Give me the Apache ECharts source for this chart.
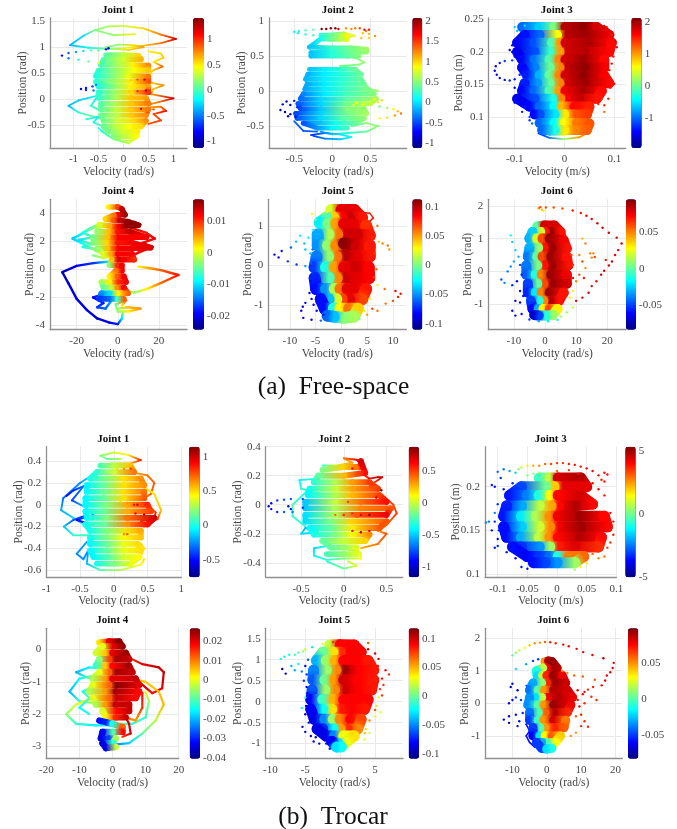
<!DOCTYPE html>
<html>
<head>
<meta charset="utf-8">
<style>html,body{margin:0;background:#fff}#chart{width:677px;height:829px}</style>
<script src="https://cdn.jsdelivr.net/npm/echarts@6/dist/echarts.min.js"></script>
</head>
<body>
<div id="chart"></div>
<script>
// every row is [velocity, position, colour value]
const free1Body = [[[-.35,.85,.05],[0,.85,.3],[.3,.84,.55],[.35,.77,.65],[0,.76,.35],[-.4,.76,.05],[-.45,.66,0],[-.1,.67,.25],[.2,.66,.5],[.5,.65,.75],[.5,.56,.6],[.2,.56,.45],[-.15,.56,.2],[-.5,.55,-.05],[-.55,.45,-.1],[-.2,.45,.15],[.1,.46,.4],[.5,.44,.8],[.5,.34,.9],[.15,.35,.5],[-.2,.35,.2],[-.55,.34,-.05],[-.5,.25,-.1],[-.15,.25,.2],[.15,.24,.5],[.5,.25,.7],[.5,.14,1],[.15,.14,.55],[-.2,.14,.2],[-.5,.14,-.05],[-.5,.03,-.05],[-.15,.04,.25],[.15,.03,.6],[.45,.03,.7],[.5,-.08,.8],[.15,-.08,.6],[-.2,-.08,.25],[-.45,-.08,.05],[-.45,-.19,.05],[-.15,-.19,.3],[.15,-.19,.6],[.5,-.19,.8],[.45,-.3,.75],[.15,-.3,.6],[-.15,-.3,.3],[-.45,-.3,.1],[-.4,-.41,.1],[-.1,-.41,.35],[.2,-.41,.55],[.45,-.41,.75],[.35,-.52,.55],[.1,-.52,.45],[-.15,-.52,.3],[-.4,-.52,.1],[-.3,-.62,.12],[0,-.62,.35],[.28,-.62,.5],[.25,-.71,.45],[0,-.71,.3],[-.2,-.71,.15]]];
const free1Loops = [[[.23,1.25,.5],[-.2,1.23,.2],[-.57,1.33,.15],[-.3,1.4,.25],[0,1.41,.35],[.4,1.36,.55],[.75,1.24,.8],[1.05,1.16,1.2],[.75,1.08,.8],[.4,1.03,.6],[0,.98,.4],[-.3,.97,.1],[-.7,.99,-.1],[-1.07,1.04,-.35],[-.8,1.22,-.25],[-.57,1.33,.15]],[[-.35,1.0,.1],[-.1,1.05,.2],[.2,1.04,.55],[.4,1.0,.7],[.1,.95,.55],[-.2,.97,.2]],[[.5,.92,.5],[.75,.88,.55],[.8,.8,.6],[.6,.72,.5],[.78,.63,.85],[.6,.56,.6],[.5,.46,.5]],[[.5,.33,.55],[.8,.27,.75],[.6,.2,.6],[.55,.1,.7],[1.0,.02,1.2],[.7,-.05,.8],[.5,-.1,.7]],[[.5,-.15,.7],[.75,-.14,.8],[.85,-.22,1.1],[.6,-.28,.9],[.75,-.4,.95],[.5,-.47,.9]],[[-.5,.08,-.1],[-.9,-.02,-.3],[-1.1,-.12,-.35],[-.9,-.25,-.05],[-.6,-.33,.1],[-.4,-.38,.1]],[[-.55,.02,-.2],[-.65,-.12,-.1],[-.5,-.2,0]],[[-.75,-.38,-.05],[-.5,-.33,-.2],[-.6,-.44,-.1],[-.45,-.5,.05]],[[-.5,-.55,-.1],[-.3,-.7,.05],[0,-.8,.25],[.2,-.78,.4],[.25,-.7,.4]],[[-.45,-.6,-.1],[-.2,-.76,.1],[.1,-.84,.3],[.28,-.72,.45]]];
const free1Dots = [[-1.23,.84,-.8],[-1.1,.89,-.6],[-.95,.91,-.4],[-.8,.93,-.25],[-.65,.94,0],[-.5,.94,.1],[-.35,.96,-.8],[-.3,.98,-.9],[-1.1,.79,-.5],[-.9,.76,-.1],[-.7,.73,.1],[-.5,.7,.4],[-.85,.2,-.9],[-.75,.22,-.8],[-.62,.25,-.7],[-.75,.18,-.7],[-.6,.17,-.5],[-.55,.28,-.5],[.15,.37,.6],[.28,.38,.9],[.42,.38,1.25],[.12,.15,.6],[.28,.16,1.05],[.45,.17,1.3],[.35,-.18,1.2],[.55,-.08,.8],[.6,-.19,.9],[.8,-.2,.85],[.48,-.25,.95]];

const free2Body = [[[-.15,.8,.2],[.05,.8,.5],[.2,.8,.9],[.2,.74,.8],[0,.74,.45],[-.15,.75,.15],[-.3,.63,-.1],[0,.62,.25],[.25,.62,.45],[.45,.6,.6],[.45,.56,.55],[.2,.56,.4],[0,.56,.2],[-.28,.55,-.1],[-.28,.5,-.1],[0,.5,.2],[.2,.5,.35],[.35,.5,.5]],[[-.3,.31,-.1],[-.1,.31,.03],[.1,.31,.2],[.3,.31,.4],[.38,.24,.4],[.15,.24,.22],[-.1,.24,.03],[-.32,.24,-.15],[-.35,.17,-.15],[-.1,.17,.03],[.15,.17,.22],[.38,.17,.4],[.42,.1,.42],[.15,.1,.25],[-.1,.1,.03],[-.33,.1,-.18],[-.36,.03,-.2],[-.1,.03,.03],[.2,.03,.28],[.44,.03,.45],[.55,-.04,.5],[.2,-.04,.3],[-.1,-.04,.02],[-.38,-.04,-.3],[-.42,-.11,-.4],[-.15,-.11,-.05],[.2,-.11,.35],[.58,-.11,.6],[.5,-.18,.7],[.2,-.18,.45],[-.15,-.18,-.05],[-.45,-.18,-.45],[-.42,-.25,-.5],[-.15,-.25,-.1],[.2,-.25,.5],[.42,-.25,.55],[.45,-.32,.6],[.2,-.32,.45],[-.15,-.32,-.05],[-.48,-.32,-.5],[-.46,-.39,-.45],[-.15,-.39,-.05],[.15,-.39,.35],[.42,-.39,.55],[.3,-.46,.4],[.05,-.46,.15],[-.3,-.46,-.25],[-.38,-.46,-.45],[-.2,-.53,-.25],[0,-.53,.05],[.2,-.53,.28]]];
const free2Loops = [[[.6,.0,.55],[.5,.03,.5],[.4,.12,.42]],[[-.3,.33,-.1],[0,.33,.1],[.3,.33,.35],[.1,.36,.45],[.35,.38,.5],[.42,.41,.55],[.32,.47,.45],[.2,.5,.4]],[[.25,-.5,.3],[.45,-.46,.5],[.6,-.5,.55],[.45,-.58,.4],[.2,-.6,.2],[0,-.62,.0],[-.15,-.58,-.3]],[[-.5,-.43,-.4],[-.38,-.57,-.45],[-.2,-.58,-.4]],[[-.28,-.63,-.6],[-.1,-.6,-.3],[.1,-.62,0],[.25,-.66,.1],[.1,-.69,-.1],[-.1,-.68,-.3],[-.25,-.64,-.55]],[[-.05,.82,.1],[.15,.84,.6],[.3,.79,.9],[.1,.75,.5]]];
const free2Dots = [[-.14,.89,2.05],[-.08,.89,2.08],[-.02,.9,2.08],[.04,.9,2.08],[.08,.89,1.8],[.18,.9,1.2],[.25,.89,1.25],[.3,.9,1.3],[.36,.9,1.4],[.42,.88,1.7],[.48,.88,1.6],[.44,.86,1.3],[-.5,.85,.08],[-.44,.86,.15],[-.35,.87,.3],[-.25,.88,.35],[-.45,.83,.1],[-.35,.81,.2],[-.25,.8,.3],[.56,.79,1.2],[.48,.82,1.1],[.4,.83,1.05],[.48,.76,1],[.38,.76,1.05],[.9,-.32,1.3],[.86,-.29,1.1],[.8,-.26,.9],[.72,-.24,.6],[.62,-.22,.4],[.82,-.35,1.2],[.72,-.38,1],[.62,-.39,.85],[.65,-.13,1],[.55,-.12,.9],[.6,-.16,.95],[.4,-.19,.9],[.32,-.17,.85],[.28,-.2,.8],[-.6,-.15,-.85],[-.65,-.19,-.9],[-.55,-.2,-.85],[-.68,-.27,-1],[-.62,-.3,-.95],[-.55,-.33,-.9],[-.58,-.36,-.8],[-.48,-.37,-.75],[-.5,-.14,-.7],[-.46,-.23,-.6]];

const free3Body = [[[-.085,.238,-1],[-.05,.238,-.6],[-.02,.238,.1],[.002,.238,1.9],[.04,.238,2.05],[.065,.238,1.8],[.09,.226,1.7],[.04,.226,2],[.002,.226,1.9],[-.015,.226,.6],[-.05,.226,-1],[-.08,.226,-1.35],[-.095,.214,-1.45],[-.06,.214,-1.1],[-.025,.214,-.1],[-.008,.214,1],[.002,.214,1.8],[.05,.214,1.95],[.095,.214,1.6],[.09,.2,1.6],[.04,.2,1.9],[.002,.2,1.8],[-.01,.2,1],[-.03,.2,-.2],[-.06,.2,-1.1],[-.095,.2,-1.5],[-.085,.188,-1.4],[-.06,.188,-.95],[-.03,.188,-.1],[-.01,.188,1.1],[.002,.188,1.8],[.04,.188,2],[.08,.188,1.6],[.08,.176,1.65],[.04,.176,2.05],[.002,.176,1.85],[-.01,.176,1.1],[-.03,.176,0],[-.06,.176,-.9],[-.085,.176,-1.4],[-.075,.164,-1.3],[-.05,.164,-.7],[-.03,.164,0],[-.01,.164,1.1],[.002,.164,1.8],[.04,.164,2.05],[.08,.164,1.65],[.09,.152,1.6],[.04,.152,2],[.002,.152,1.8],[-.01,.152,1.1],[-.03,.152,0],[-.055,.152,-.8],[-.08,.152,-1.3],[-.085,.14,-1.4],[-.06,.14,-1],[-.03,.14,-.1],[-.01,.14,1],[.002,.14,1.7],[.04,.14,1.95],[.075,.14,1.6],[.065,.128,1.55],[.03,.128,1.85],[.003,.128,1.65],[-.008,.128,1.1],[-.025,.128,-.3],[-.06,.128,-1.1],[-.095,.128,-1.5],[-.07,.116,-1.4],[-.05,.116,-1],[-.02,.116,-.4],[-.004,.116,.9],[.02,.116,1.6],[.05,.116,1.5],[.045,.104,1.4],[.02,.104,1.3],[0,.104,.7],[-.02,.104,-.5],[-.05,.104,-1.1],[-.06,.104,-1.4]],[[-.05,.091,-1],[-.02,.091,-.4],[0,.091,.6],[.025,.091,1.15],[.05,.09,1.3],[.045,.08,1.25],[.02,.08,1.1],[0,.08,.7],[-.02,.08,-.3],[-.045,.08,-1]]];
const free3Loops = [[[-.052,.075,-1.3],[-.03,.068,-.9],[0,.066,.2],[.03,.069,1],[.05,.077,1.3],[.03,.076,1.2],[0,.073,.6],[-.03,.073,-.9],[-.05,.076,-1.2]],[[.095,.23,1.7],[.08,.24,1.6],[.07,.232,1.7]],[[-.095,.128,-1.1],[-.075,.134,-.7],[-.09,.122,-1.2]]];
const free3Dots = [[-.14,.171,-1.4],[-.138,.178,-1.4],[-.13,.183,-1.35],[-.12,.186,-1.2],[-.105,.187,-1.2],[-.136,.165,-1.4],[-.13,.16,-1.4],[-.12,.157,-1.35],[-.11,.156,-1.3],[-.1,.158,-1.3],[-.1,.238,-.6],[-.095,.232,-.6],[-.08,.24,-.5],[-.105,.21,-1.5],[-.11,.203,-1.5],[.102,.216,1.7],[.105,.207,1.7],[.098,.193,1.6],[.092,.145,1.6],[.1,.151,1.6],[.085,.238,1.55],[.068,.12,1.5],[.08,.118,1.4],[-.085,.108,-1.3],[-.08,.115,-1.3],[-.07,.095,-1.2],[-.065,.09,-1],[-.105,.2,-1.4],[-.1,.193,-1.4],[-.098,.22,-1.3],[-.09,.165,-1.3],[-.1,.145,-1.4],[-.1,.122,-1.3],[.095,.182,1.6],[.09,.172,1.6],[.088,.128,1.5],[.075,.128,1.5],[.095,.226,1.5],[.08,.108,1.2],[-.07,.1,-1.1]];

const free4Body = [[[-4.5,4.45,.002],[0,4.45,.009],[2,4.3,.014],[3.5,3.9,.016],[0,3.9,.012],[-2,3.85,.007],[-6,3.6,.003],[-2,3.5,.008],[1,3.5,.014],[5,3.4,.016],[10,3.15,.016],[4,3.1,.016],[0,3.05,.012],[-4,3.1,.005],[-9,3.2,0],[-10,2.7,-.003],[-4,2.7,.004],[0,2.7,.011],[6,2.7,.014],[14,2.3,.012],[6,2.3,.012],[0,2.3,.012],[-5,2.3,.004],[-12,2.3,-.004],[-12,1.9,-.004],[-5,1.9,.003],[0,1.9,.011],[7,1.9,.012],[16,1.55,.013],[7,1.5,.012],[0,1.5,.012],[-5,1.5,.004],[-10,1.5,-.003],[-7,1.1,0],[-3,1.1,.005],[0,1.1,.012],[7,1.1,.012],[8,.7,.01],[3,.7,.012],[0,.7,.013],[-3,.7,.004],[-4,.3,-.003],[0,.3,.01],[2,.3,.012],[2,-.1,.012],[-1,-.1,.007],[-4,-.5,.002],[0,-.5,.008],[3,-.5,.012],[4,-.9,.012],[0,-.9,.01],[-4,-.9,.002],[-8,-.9,-.002],[-7,-1.3,-.005],[-3,-1.3,-.001],[0,-1.3,.006],[3,-1.3,.012],[5,-1.7,.008],[0,-1.7,.002],[-4,-1.7,-.01],[-8,-1.7,-.013],[-9,-2.1,-.017],[-4,-2.1,-.015],[0,-2.1,-.006],[3,-2.1,.008]]];
const free4Loops = [[[-8,3.3,-.004],[-14,2.9,-.006],[-18,2.5,-.009],[-22,2.2,-.011],[-18,1.9,-.009],[-14,1.6,-.006],[-9,1.2,-.002]],[[-10,3.1,-.002],[-17,2.6,-.008],[-12,2.3,-.005],[-19,2.1,-.01],[-13,1.8,-.005],[-17,1.6,-.008],[-9,1.4,-.002]],[[-12,1,-.004],[-7,.8,-.001],[-4,.9,.002]],[[-5,.55,-.01],[-12,.45,-.017],[-20,.25,-.02],[-27,-.2,-.022],[-24,-1,-.021],[-20,-2.1,-.02],[-15,-2.9,-.02],[-10,-3.5,-.021],[-4,-3.8,-.02],[0,-3.9,-.018],[2,-3.5,-.01],[2.5,-3,-.003]],[[10,.2,.002],[15,.1,.005],[21,-.05,.008],[29.5,-.4,.011],[22,-.9,.008],[14,-1.4,.002],[8,-1.65,-.003],[4,-1.55,.002]],[[8,3.4,.016],[11,3.2,.016],[6,3,.013],[14,2.6,.011],[17,2.3,.012],[18,2.2,.012],[12,1.9,.012],[17,1.6,.012],[10,1.2,.012],[6,.9,.012]],[[-10,-1.9,-.018],[-12,-2,-.019],[-7,-2.4,-.018],[-10,-2.7,-.017],[-6,-2.8,-.015],[-3,-2.2,-.012]],[[0,-2.8,-.002],[5,-2.7,.004],[11,-2.8,.006],[5,-3,.002],[0,-3,-.003],[-1,-2.5,-.004],[4,-2.2,.008],[2,-2.6,.002]]];
const free4Dots = [];

const free5Body = [[[-2,1.4,.02],[0,1.4,.09],[2.5,1.4,.09],[4,1.2,.08],[1.5,1.2,.095],[0,1.2,.085],[-1.5,1.2,.04],[-3,1.2,-.01],[-4.2,1.08,-.03],[-2.5,1.05,0],[-1,1.05,.05],[.5,1.05,.09],[3,1,.09],[4.8,1,.075],[5.5,.75,.08],[3,.78,.095],[.5,.78,.095],[-.8,.78,.06],[-2.5,.78,.01],[-4.6,.78,-.045],[-4.6,.5,-.05],[-2.6,.5,.005],[-1,.5,.055],[.5,.55,.11],[3,.5,.095],[5.5,.5,.08],[5.5,.22,.08],[3,.22,.09],[.5,.25,.1],[-1,.22,.06],[-2.6,.22,.005],[-4.8,.22,-.055],[-5.2,-.05,-.07],[-3,-.05,-.02],[-1.2,-.05,.05],[.5,-.05,.09],[3,-.05,.095],[5.3,-.05,.085],[5.4,-.32,.085],[3,-.32,.09],[.5,-.32,.095],[-.9,-.32,.055],[-2.5,-.32,-.01],[-5.2,-.32,-.075],[-4.9,-.6,-.08],[-3,-.6,-.05],[-1.3,-.6,.01],[-.2,-.6,.06],[1.2,-.6,.09],[3,-.6,.09],[4.8,-.6,.08],[4,-.86,.07],[1.5,-.86,.09],[0,-.86,.07],[-1,-.86,.02],[-2.5,-.86,-.04],[-4,-.86,-.08],[-3.2,-1.1,-.08],[-1.5,-1.1,-.02],[-.2,-1.1,.03],[1.5,-1.1,.06],[3.2,-1.1,.04],[2.4,-1.3,.01],[.5,-1.33,.005],[-1.5,-1.3,-.04],[-2.7,-1.28,-.06]]];
const free5Loops = [[[3.5,1.35,.1],[5.5,1.32,.08],[6.2,1.2,.08],[5,1.05,.09],[6,.95,.075]]];
const free5Dots = [[-13,.27,-.085],[-12.2,.2,-.085],[-11.6,.36,-.08],[-10.4,.1,-.07],[-9.8,.45,-.06],[-8.7,.02,-.07],[-8,.75,-.03],[-8.8,.6,-.04],[-7.2,.55,-.04],[-7,.4,-.04],[-7,-.02,-.05],[-6.4,.7,-.03],[-6,.3,-.04],[-6,.05,-.06],[-5.7,1.3,.03],[-5.5,.9,-.02],[-5.5,-.2,-.07],[-6,-.4,-.08],[-6.2,-.7,-.085],[-5.8,-.85,-.085],[-7,-.95,-.09],[-7.5,-1.05,-.09],[-7.8,-1.15,-.085],[-7.4,-1.33,-.085],[-5.8,-1.38,-.09],[-4,-1.4,-.06],[-3.5,-1.25,-.08],[7,1,.06],[7.3,.6,.04],[8,.55,.055],[9,.5,.06],[9.3,.4,.05],[6.5,.3,.07],[6.8,-.1,.06],[7,-.5,.02],[8.4,-.6,.06],[8.6,-.97,.06],[10,-.9,.07],[10.5,-.65,.09],[11,-.8,.08],[11.5,-.72,.08],[7,-1.15,.06],[6,-1.1,.07],[5,-1.25,.05],[-5,1.15,0],[-5.2,.6,-.05],[-5.6,.4,-.06],[-5.8,-.5,-.08],[-5.4,-1,-.085],[-4.8,-1.15,-.08],[6,.7,.075],[6.2,.15,.08],[6.3,-.3,.07],[5.5,-.85,.03],[4.5,-1.15,.02],[3.5,-1.35,.0],[-2.8,1.35,.03],[-3.5,1.3,.01]];

const free6Body = [[[-2.5,1.38,.0],[0,1.4,.08],[3,1.4,.08],[5,1.2,.07],[1.5,1.2,.09],[0,1.2,.07],[-1.5,1.2,.02],[-4,1.2,-.025],[-5,1,-.03],[-2.5,1,.02],[-.8,1,.06],[1.5,1,.09],[6,.95,.075],[7,.7,.07],[2,.72,.09],[-.5,.72,.07],[-2.2,.72,.01],[-5,.72,-.03],[-5.5,.45,-.04],[-2.5,.45,.0],[-.8,.45,.06],[2,.45,.09],[7,.45,.07],[7.5,.18,.07],[2,.18,.09],[-.5,.18,.07],[-2.5,.18,.005],[-6,.18,-.04],[-6,-.1,-.045],[-3,-.1,-.01],[-1,-.1,.05],[2,-.1,.09],[7,-.1,.075],[7,-.38,.08],[2,-.38,.09],[-.5,-.38,.06],[-2.5,-.38,0],[-5.5,-.38,-.05],[-5.5,-.65,-.055],[-3,-.65,-.02],[-1,-.65,.05],[1.5,-.65,.09],[6,-.65,.07],[4.5,-.9,.07],[1.5,-.9,.085],[-.5,-.9,.05],[-2,-.9,-.01],[-4.5,-.9,-.05],[-4,-1.15,-.06],[-2,-1.15,-.03],[-.5,-1.15,.03],[1.5,-1.15,.06],[4,-1.15,.03],[2.5,-1.33,.01],[0,-1.35,-.01],[-2,-1.35,-.05],[-3.5,-1.33,-.07]]];
const free6Loops = [[[-3.5,1.35,-.02],[-5,1.2,-.03],[-5.2,.9,-.04],[-4,1,-.03]],[[4,1.35,.07],[6,1.25,.07],[7,1,.06],[6,.85,.07]]];
const free6Dots = [[-2,1.93,.05],[-1.5,1.96,.06],[-1,1.88,.04],[-.5,1.85,.03],[.3,1.95,.06],[2.8,1.95,.06],[5.6,1.92,.06],[8.9,1.86,.07],[11.5,1.78,.07],[13.3,1.7,.075],[15,1.6,.075],[16.8,1.47,.08],[18.5,1.33,.08],[20.5,1.18,.08],[23,1.03,.08],[24.6,.85,.08],[23.5,.65,.08],[22.5,.5,.075],[21.5,.3,.08],[19.5,.35,.07],[20.5,.18,.08],[19,.02,.08],[18,-.1,.08],[16.5,-.3,.07],[15,-.45,.08],[14,-.65,.08],[12,-.8,.08],[10,-.9,.08],[14.5,.55,.05],[15.5,.55,.05],[15,.42,.05],[16,.44,.06],[13,.85,.05],[12,1,.04],[11,.5,.05],[12,.3,.06],[13,.1,.05],[11,-.1,.06],[12.5,-.2,.07],[10,-.3,.05],[9,-.6,.03],[9,-1.1,.02],[7,-1.25,.01],[5,-1.38,.01],[-11,1.1,-.015],[-10.5,.9,-.025],[-9.5,.65,-.025],[-8.5,.45,-.03],[-10,.3,-.03],[-11,.15,-.035],[-12,.0,-.04],[-14,-.25,-.045],[-13,-.35,-.04],[-10.5,-.42,-.055],[-9,-.3,-.06],[-8,-.6,-.06],[-9.5,-.9,-.065],[-10.5,-1.2,-.06],[-9.5,-1.35,-.06],[-7.5,-1.3,-.06],[-5,-1.47,-.05],[-2,-1.52,-.03],[1,-1.52,-.02],[4,-1.48,-.02],[-8,.2,-.05],[-7.5,-.1,-.055],[-8,-.95,-.065],[-7,-.75,-.06],[8.5,.5,.06],[9,.2,.065],[9,-.2,.07],[8,-.8,.03]];

const troc1Body = [[[-.2,.36,.1],[0,.36,.3],[.25,.36,.55],[.3,.3,.7],[0,.3,.35],[-.25,.3,.05],[-.35,.24,0],[-.1,.24,.2],[.15,.24,.5],[.4,.24,.65],[.45,.18,.65],[.15,.18,.5],[-.15,.18,.15],[-.4,.18,-.05],[-.4,.12,-.05],[-.15,.12,.15],[.15,.12,.5],[.45,.12,.7],[.45,.06,.75],[.15,.06,.5],[-.15,.06,.15],[-.42,.06,-.05],[-.42,0,-.05],[-.1,0,.2],[.2,0,.6],[.5,0,.85],[.55,-.06,.8],[.2,-.06,.6],[-.15,-.06,.15],[-.42,-.06,-.05],[-.4,-.12,-.05],[-.1,-.12,.2],[.2,-.12,.7],[.6,-.12,1],[.5,-.18,.9],[.2,-.18,.65],[-.15,-.18,.15],[-.42,-.18,0],[-.35,-.24,0],[-.1,-.24,.2],[.2,-.24,.5],[.4,-.24,.6],[.4,-.3,.55],[.15,-.3,.45],[-.1,-.3,.2],[-.35,-.3,0],[-.35,-.36,-.05],[-.1,-.36,.15],[.15,-.36,.4],[.35,-.36,.5],[.4,-.42,.5],[.15,-.42,.4],[-.1,-.42,.15],[-.35,-.42,-.05],[-.3,-.48,-.05],[-.1,-.48,.1],[.15,-.48,.35],[.38,-.48,.45],[.25,-.54,.4],[0,-.54,.2],[-.25,-.54,0]]];
const troc1Loops = [[[.1,.42,.3],[-.1,.42,.15],[-.2,.45,.2],[0,.48,.35],[.2,.46,.45],[.4,.41,.85],[.25,.38,.6],[-.05,.38,.3]],[[-.3,.28,-.05],[-.5,.2,-.25],[-.75,.06,-.3],[-.78,-.05,-.2],[-.6,-.12,-.1],[-.4,-.2,.1]],[[-.7,.08,-.5],[-.6,.13,-.45],[-.45,.17,-.3],[-.62,.04,-.4],[-.4,-.03,-.1]],[[-.42,-.1,-.45],[-.6,-.14,-.35],[-.74,-.2,-.15],[-.6,-.28,.05],[-.35,-.28,.1]],[[-.4,-.17,-.5],[-.55,-.14,-.5],[-.3,-.09,-.2]],[[-.4,-.34,-.2],[-.55,-.45,-.25],[-.45,-.5,-.25],[-.38,-.42,-.25],[-.4,-.54,-.15],[-.2,-.6,.1],[.1,-.6,.3],[.4,-.55,.45],[.45,-.5,.5]],[[.25,.3,.6],[.5,.27,.7],[.6,.2,.75],[.55,.1,.75],[.45,.06,.7]],[[.45,.16,.45],[.6,.1,.5],[.7,-.05,.55],[.65,-.13,.8],[.45,-.2,.85]],[[.55,-.03,.7],[.62,-.07,.85],[.6,-.13,1],[.4,-.15,.95]],[[.4,-.35,.5],[.45,-.4,.5],[.4,-.47,.5]]];
const troc1Dots = [[.15,.33,.65],[.25,.33,.8],[.05,.33,.5],[.1,.03,.5],[.2,.01,.65],[.3,.0,.9],[.35,0,1],[.32,-.08,.95],[.45,-.09,1.05],[.15,-.27,.65],[.2,-.27,.75]];

const troc2Body = [[[-.25,.24,-.15],[0,.26,.2],[.2,.26,.45],[.2,.3,.7],[.25,.22,.6],[0,.2,.25],[-.3,.2,-.2],[-.35,.155,-.3],[-.1,.155,-.05],[.1,.155,.3],[.3,.155,.5],[.4,.11,.5],[.1,.11,.3],[-.1,.11,0],[-.4,.11,-.35],[-.42,.065,-.4],[-.1,.065,-.05],[.1,.065,.25],[.42,.065,.5],[.5,.02,.6],[.2,.02,.4],[-.1,.02,0],[-.45,.02,-.5],[-.45,-.025,-.5],[-.1,-.025,-.05],[.2,-.025,.35],[.55,-.025,.45],[.5,-.07,.65],[.15,-.07,.45],[-.1,-.07,-.05],[-.45,-.07,-.45],[-.45,-.115,-.45],[-.15,-.115,-.15],[.1,-.115,.2],[.5,-.115,.45],[.42,-.16,.45],[.1,-.16,.15],[-.15,-.16,-.2],[-.4,-.16,-.4],[-.35,-.205,-.35],[-.1,-.205,-.15],[.1,-.205,.1],[.3,-.205,.35],[.25,-.25,.2],[0,-.25,0],[-.25,-.25,-.2],[-.15,-.295,-.2],[0,-.295,-.1],[.15,-.295,.05],[.15,-.34,.05],[0,-.34,-.1],[-.2,-.34,-.25]]];
const troc2Loops = [[[-.25,.27,-.3],[-.1,.27,.05],[.1,.29,.3],[.0,.32,.35],[.15,.31,.65],[.2,.28,.7]],[[.2,.22,.55],[.3,.18,.6],[.4,.19,.75],[.45,.19,.7],[.35,.15,.5]],[[-.3,.18,-.3],[-.52,.17,-.4],[-.5,.11,-.3],[-.3,.08,-.3]],[[-.42,.1,-.35],[-.6,.0,-.25],[-.6,-.08,-.3],[-.45,-.15,-.3]],[[-.3,-.18,-.3],[-.45,-.16,-.55],[-.5,-.2,-.45],[-.3,-.19,-.5]],[[.45,.07,.45],[.58,.0,.5],[.62,-.06,.5],[.5,-.14,.4],[.4,-.18,.3]],[[.4,-.18,.3],[.5,-.2,.45],[.4,-.27,.4],[.2,-.3,.25]],[[-.15,-.28,-.35],[-.35,-.3,-.45],[-.35,-.35,-.4],[-.2,-.38,-.3],[0,-.37,-.15],[.2,-.37,.1],[.2,-.33,.05],[.05,-.31,-.1]],[[-.2,-.39,-.3],[0,-.44,-.2],[.15,-.42,.05],[.05,-.39,0]]];
const troc2Dots = [[-.88,-.01,-.95],[-.85,.01,-.9],[-.78,.03,-.8],[-.7,.035,-.75],[-.62,.04,-.7],[-.85,-.03,-.9],[-.78,-.05,-.8],[-.7,-.05,-.7],[-.6,-.05,-.65],[-.65,-.01,-.9],[-.62,-.03,-.9],[-.48,.04,-.75],[-.48,-.02,-.8],[.1,-.06,.55],[.2,-.07,.7],[.3,-.07,.85],[.1,-.18,.6],[.2,-.19,.75],[.3,-.18,.7],[.1,.25,.6],[.05,.02,.5],[-.1,-.07,.4],[0,-.07,.55],[.38,.05,.7],[.44,.1,.85]];

const troc3Body = [[[-.03,.21,-.5],[-.012,.21,.8],[.002,.21,4.5],[.04,.21,4.8],[.05,.2,4.3],[.01,.2,4.3],[-.005,.2,2],[-.02,.2,0],[-.06,.2,-3],[-.08,.19,-3.5],[-.05,.19,-2.4],[-.03,.19,-.8],[-.01,.19,1.5],[.002,.19,4],[.04,.19,4.5],[.06,.18,4],[.03,.178,4.8],[.002,.178,4],[-.01,.178,2.4],[-.03,.178,.8],[-.06,.178,-2],[-.085,.178,-3.4],[-.09,.166,-3.5],[-.06,.166,-1.3],[-.035,.166,.6],[-.012,.166,2.6],[.002,.166,4.2],[.04,.166,5],[.08,.166,4],[.085,.154,4],[.04,.154,5],[.002,.154,4.2],[-.012,.154,2.7],[-.03,.154,1],[-.06,.154,-1.6],[-.09,.154,-3.6],[-.085,.142,-3.6],[-.06,.142,-2],[-.03,.142,.8],[-.012,.142,2.6],[.002,.142,4],[.04,.142,4.8],[.075,.142,4],[.07,.131,3.6],[.03,.131,4.4],[.002,.131,3.8],[-.012,.131,.5],[-.03,.131,-2.2],[-.06,.131,-3.2],[-.075,.131,-3.6],[-.05,.12,-3.7],[-.03,.12,-3.2],[-.012,.12,-2.6],[.002,.12,-.8],[.02,.12,2.8],[.045,.12,3],[.03,.113,.5],[0,.113,-2.2],[-.02,.113,-3],[-.04,.113,-3.6]]];
const troc3Loops = [];
const troc3Dots = [[-.12,.159,-2.4],[-.115,.16,-2.6],[-.105,.13,-3.5],[-.1,.132,-3.2],[-.105,.2,-3.5],[-.11,.202,-3.5],[-.1,.217,-2.8],[-.095,.21,-3.2],[-.09,.22,-2.4],[-.08,.218,-2],[-.07,.216,-1.5],[-.065,.22,.2],[-.06,.222,1],[-.05,.224,1.6],[-.04,.224,2.2],[-.03,.224,2.6],[-.02,.226,3],[-.01,.226,3.3],[0,.227,3.5],[.01,.227,3.6],[.02,.226,3.8],[.03,.225,4],[.04,.223,4],[.05,.221,4],[.06,.218,4],[.07,.213,4],[.08,.216,4],[.085,.214,4],[.08,.206,3.8],[.075,.208,3.8],[-.05,.213,.2],[-.04,.215,.2],[-.03,.216,.5],[.0,.218,3],[.02,.219,3.6],[.035,.215,4],[.095,.16,3.8],[.09,.17,4],[.095,.145,3.8],[.085,.13,3.4],[.09,.136,3.5],[-.11,.15,-3.5],[-.105,.17,-2.4],[-.1,.18,-3.2],[-.1,.14,-3.6],[-.085,.125,-3.5],[-.07,.118,-3.7],[.05,.112,1.6],[.04,.108,1.5],[.07,.118,2.6],[.06,.123,3],[-.09,.197,-3.5],[-.075,.204,-3.4],[-.105,.16,-3.4],[-.098,.15,-3.5],[-.06,.108,-3.6],[-.05,.106,-3.6],[.08,.19,3.9],[.07,.197,4],[.06,.204,4],[.09,.15,3.8],[.08,.12,2.8],[.03,.105,.5]];

const troc4Body = [[[-4,.22,.003],[-1,.25,.02],[2,.25,.026],[3,.1,.025],[0,.1,.02],[-3,.1,.0],[-5,-.1,-.002],[-2,-.1,.005],[0,-.1,.02],[4,-.1,.025],[5,-.3,.022],[1,-.3,.024],[-1,-.3,.014],[-4,-.3,-.006],[-5,-.5,-.012],[-2,-.5,.005],[0,-.5,.018],[5,-.5,.024],[6,-.7,.022],[1,-.7,.024],[-1,-.7,.012],[-4,-.7,0],[-6,-.9,-.004],[-2,-.9,.008],[0,-.9,.02],[7,-.9,.022],[8,-1.1,.02],[1,-1.1,.026],[-1,-1.1,.012],[-6,-1.1,.0],[-7,-1.3,-.004],[-2,-1.3,.008],[1,-1.3,.024],[8,-1.3,.018],[7,-1.5,.018],[1,-1.5,.022],[-1,-1.5,.012],[-6,-1.5,.0],[-5,-1.7,-.004],[-2,-1.7,.008],[1,-1.7,.022],[5,-1.7,.022],[5,-1.9,.022],[1,-1.9,.018],[-3,-1.9,-.001],[-2,-2.1,.002],[1,-2.1,.016],[4,-2.1,.022]],[[-4,-2.2,-.031],[-2,-2.25,-.03],[0,-2.3,-.014],[3,-2.4,.012],[3,-2.55,.018],[0,-2.55,-.01],[-3,-2.55,-.032],[-3.5,-2.75,-.034],[-1,-2.75,-.028],[1,-2.75,-.004],[0,-2.9,-.012],[-3,-2.9,-.034],[-2,-3.05,-.033],[1,-3.02,-.002]]];
const troc4Loops = [[[-3,.2,.002],[-4,.05,.002],[-4.5,.0,.0],[-3,-.3,-.016]],[[5,-.25,.015],[9,-.45,.02],[14,-.55,.022],[15.5,-.7,.022],[15,-1.2,.02],[12,-1.35,.018],[8,-1,.024]],[[-3,-.6,-.01],[-7,-.55,-.015],[-11,-.7,-.02],[-8,-.85,-.012],[-5,-.95,-.004]],[[-3,-.75,-.002],[-10,-.9,-.015],[-13,-1.3,-.02],[-10,-1.6,-.012],[-6,-1.65,-.005]],[[4,-.85,.006],[10,-1,.005],[14,-1.3,.006],[15.5,-1.7,.006],[13,-2.2,-.003],[9,-2.6,-.009],[5,-2.9,-.018],[0,-2.95,-.025]],[[-1,-1.55,.004],[-6,-1.5,.004],[-11,-1.7,-.001],[-14,-2,-.006],[-11,-2.3,-.012],[-5,-2.35,-.016],[0,-2.35,-.012]],[[2,-2.3,-.008],[6,-2.3,-.012],[10,-2.1,-.012],[11,-1.6,-.005],[10,-1.3,.002]],[[0,-1.3,.012],[-5,-1.1,-.006],[-9,-1.3,-.014],[-7,-1.5,-.01],[-10,-1.8,-.015],[-7,-2,-.014]],[[3,-1.9,.02],[5,-2.3,.021],[5.5,-2.6,.02],[3,-2.7,.015]],[[6,-1.1,.022],[9,-1.35,.018],[9,-1.8,.015],[7,-2.2,.008],[4,-2.1,.012]],[[-3,.2,-.002],[-1,-.1,-.01],[-2,-.35,-.012]],[[1,-3.02,0],[0,-3.08,-.02],[-2,-3,-.03]]];
const troc4Dots = [];

const troc5Body = [[[-1.5,1.35,.02],[0,1.36,.09],[2,1.35,.09],[3,1.18,.09],[1,1.18,.09],[0,1.18,.08],[-1,1.18,.04],[-2.5,1.18,.0],[-3.4,.98,-.04],[-2,.98,.01],[-.7,.98,.05],[.5,.98,.09],[2.5,.98,.09],[4,.98,.085],[4.8,.75,.085],[2.5,.75,.09],[.5,.75,.11],[-.6,.75,.06],[-2,.75,.01],[-3.8,.75,-.05],[-3.9,.52,-.06],[-2.2,.52,0],[-.8,.52,.055],[.5,.52,.1],[2.5,.52,.09],[4.8,.52,.085],[4.5,.28,.085],[2.5,.28,.09],[.5,.28,.1],[-.8,.28,.06],[-2.2,.28,.01],[-4,.28,-.06],[-4.2,.05,-.08],[-2.5,.05,-.01],[-.9,.05,.05],[.5,.05,.09],[2.5,.05,.09],[4,.05,.09],[3.5,-.18,.085],[1.5,-.18,.09],[0,-.18,.085],[-1.2,-.18,.04],[-2.5,-.18,-.02],[-4.2,-.18,-.08],[-3.7,-.42,-.085],[-2.2,-.42,-.05],[-1,-.42,.01],[0,-.42,.06],[1.5,-.42,.09],[3,-.42,.075],[2.5,-.65,.06],[1,-.65,.08],[0,-.65,.055],[-1,-.65,-.02],[-2.5,-.65,-.07],[-3.3,-.65,-.085],[-2,-.82,-.085],[-.8,-.82,-.05],[.5,-.82,.03],[2,-.82,.04],[.8,-.98,.03],[-.3,-1,-.03],[-1.2,-.95,-.08],[-.5,-1.08,-.03],[.2,-1.08,-.02]]];
const troc5Loops = [];
const troc5Dots = [[-8.3,.78,-.09],[-7.8,.67,-.09],[-8.5,1.02,-.02],[-8,1.07,-.02],[-7.3,1.12,-.02],[-6.5,1.12,-.01],[-6,1.17,-.005],[-5.3,1.2,.01],[-7,.85,-.04],[-6.5,.75,-.04],[-6,.9,-.02],[-5.5,.72,-.05],[-5.2,.5,-.07],[-4.8,.35,-.08],[-4.8,.65,-.07],[-5,.1,-.01],[-5.5,-.15,-.02],[-5,-.3,-.09],[-5.4,-.6,-.09],[-5,-.72,-.09],[-4.2,-.82,-.09],[-3.5,-.85,-.09],[-2,-1,-.09],[-1.5,-1.12,-.08],[3.5,-.9,.03],[4.2,-.75,.02],[3.7,-.65,.04],[5.5,1.02,.1],[5,1.15,.1],[4,1.25,.1],[2.5,1.42,.09],[4,1.4,.07],[6.5,.75,.09],[7,.65,.08],[6,.55,.09],[6.2,.4,.08],[6,.15,.08],[5.5,.1,.03],[5.2,-.1,.04],[5.8,-.25,.03],[5,-.35,.03],[-1,1.42,.08],[-2.5,1.38,.03],[-4,1.3,-.03],[-5,1.25,.02],[-4.6,1,-.06],[-5,.85,-.08],[-4.7,.2,-.08],[-4.9,-.1,-.085],[-4.5,-.5,-.09],[-3.8,-.95,-.085],[-3,-1,-.09],[5.4,.85,.09],[5.7,.3,.08],[5,-.2,.07],[4.2,-.45,.06],[3.5,-.75,.05]];

const troc6Body = [[[-.5,1.28,.05],[.5,1.3,.09],[1.5,1.28,.095],[3,1.08,.09],[1,1.08,.095],[0,1.08,.08],[-1.2,1.08,.02],[-3,1,-.01],[-2.8,.85,-.02],[-1.2,.85,.02],[0,.85,.07],[2,.85,.095],[4.5,.85,.08],[5.5,.62,.085],[2,.62,.095],[0,.62,.07],[-1.5,.62,.01],[-4,.62,-.03],[-5,.4,-.04],[-2.5,.4,.0],[-.6,.4,.05],[2,.4,.09],[6,.4,.085],[7.5,.18,.08],[3,.18,.09],[0,.18,.08],[-1.5,.18,.02],[-3.5,.18,-.02],[-5,.18,-.035],[-5.5,-.05,-.035],[-2.5,-.05,.0],[-.7,-.05,.05],[2,-.05,.095],[7,-.05,.08],[6,-.28,.07],[2,-.28,.09],[-.5,-.28,.06],[-2.5,-.28,.0],[-5,-.28,-.04],[-5,-.52,-.05],[-2.5,-.52,-.005],[-.8,-.52,.05],[2,-.52,.085],[5.5,-.52,.055],[5,-.75,.06],[2,-.75,.07],[-.5,-.75,.05],[-2,-.75,.0],[-4,-.75,-.05],[-4,-1,-.06],[-2,-1,-.02],[-.5,-1,.03],[1.5,-1,.06],[4,-1,.04],[2.5,-1.2,.03],[0,-1.22,.0],[-1.5,-1.2,-.03],[-3,-1.2,-.05],[-1.5,-1.38,-.05],[0,-1.4,-.02],[1.5,-1.38,-.01]]];
const troc6Loops = [[[-6,.55,-.055],[-5.2,.35,-.05],[-5.3,.55,-.05]],[[-5,-.4,-.055],[-6,-.65,-.06],[-5,-.85,-.06],[-6,-1,-.06],[-5,-1.2,-.065],[-3.5,-1.35,-.06]],[[-1.5,1.35,-.015],[0,1.4,-.005],[1.5,1.36,0]]];
const troc6Dots = [[-10,1.47,.0],[-9,1.55,.01],[-8,1.63,.02],[-6.5,1.7,.03],[-5,1.78,.04],[-3.5,1.84,.05],[-2,1.86,.05],[-.5,1.88,.06],[1,1.87,.07],[2.6,1.84,.07],[4.8,1.8,.08],[6.4,1.75,.08],[8.7,1.67,.08],[10.6,1.57,.08],[13.3,1.48,.08],[16.5,1.38,.09],[19.5,1.24,.08],[19.2,1.08,.08],[18.5,.95,.08],[17.5,.85,.08],[17,.7,.08],[16,.55,.08],[14,.72,.06],[13.5,.5,.07],[12,.42,.07],[11,.35,.08],[10.5,.28,.08],[13,.2,.07],[14.5,.1,.07],[11,0,.07],[9.5,-.1,.08],[10,-.35,.07],[11,-.55,.07],[10,-.7,.07],[12,-.72,.07],[8.5,-.9,.05],[7,-1,.05],[6,.93,.05],[8,.85,.06],[10.5,.82,.06],[4.5,1,.05],[-2.5,1.35,-.05],[-4,1.3,-.05],[-6,1.2,-.03],[-9,1.05,-.02],[-10,.6,-.06],[-10.5,.5,-.07],[-8.5,.4,-.07],[-10,.1,-.06],[-9,.18,-.05],[-11,.0,-.06],[-12.5,-.5,-.07],[-11,-.4,-.06],[-11,-.6,-.07],[-9,-.35,-.06],[-8.5,-.7,-.07],[-8,-.55,-.06],[-7.5,.1,-.05],[-7,-.3,-.055],[9,.4,.08],[9,.1,.075],[8.5,-.4,.06]];

// tick labels
const free1XTicks = [-1,-.5,0,.5,1], free1YTicks = [-.5,0,.5,1,1.5], free1BarTicks = [-1,-.5,0,.5,1];
const free2XTicks = [-.5,0,.5], free2YTicks = [-.5,0,.5,1], free2BarTicks = [-1,-.5,0,.5,1,1.5,2];
const free3XTicks = [-.1,0,.1], free3YTicks = [.1,.15,.2,.25], free3BarTicks = [-1,0,1,2];
const free4XTicks = [-20,0,20], free4YTicks = [-4,-2,0,2,4], free4BarTicks = [-.02,-.01,0,.01];
const free5XTicks = [-10,-5,0,5,10], free5YTicks = [-1,0,1], free5BarTicks = [-.1,-.05,0,.05,.1];
const free6XTicks = [-10,0,10,20], free6YTicks = [-1,0,1,2], free6BarTicks = [-.05,0,.05];
const troc1XTicks = [-1,-.5,0,.5,1], troc1YTicks = [-.6,-.4,-.2,0,.2,.4], troc1BarTicks = [-.5,0,.5,1];
const troc2XTicks = [-.5,0,.5], troc2YTicks = [-.4,-.2,0,.2,.4], troc2BarTicks = [-1,-.5,0,.5];
const troc3XTicks = [-.1,-.05,0,.05,.1], troc3YTicks = [.1,.15,.2], troc3BarTicks = [-5,0,5];
const troc4XTicks = [-20,-10,0,10,20], troc4YTicks = [-3,-2,-1,0], troc4BarTicks = [-.04,-.03,-.02,-.01,0,.01,.02];
const troc5XTicks = [-10,-5,0,5], troc5YTicks = [-1,-.5,0,.5,1,1.5], troc5BarTicks = [-.1,-.05,0,.05,.1];
const troc6XTicks = [-10,0,10,20], troc6YTicks = [-1,0,1,2], troc6BarTicks = [-.05,0,.05];

const jet = ['#00007f','#0000ff','#007fff','#00ffff','#7fff7f','#ffff00','#ff7f00','#ff0000','#7f0000'];
const serif = 'Liberation Serif';
const tickColor = '#454545';

// plot box [left, top, right, bottom], colorbar [left, right], title centre x, y label distance
const panels = [
  {t:'Joint 1',y:'Position (rad)',x:'Velocity (rad/s)',box:[50,18,187,148],xr:[-1.47,1.27],yr:[-.93,1.56],bar:[193,204],cr:[-1.13,1.42],tx:118,ty:10,yg:21,xt:free1XTicks,yt:free1YTicks,ct:free1BarTicks,body:free1Body,loops:free1Loops,dots:free1Dots,bw:5.4,lw:1.8},
  {t:'Joint 2',y:'Position (rad)',x:'Velocity (rad/s)',box:[269,18,406.7,148],xr:[-.83,.975],yr:[-.815,1.047],bar:[412.3,422.3],cr:[-1.12,2.08],tx:337.7,ty:10,yg:21,xt:free2XTicks,yt:free2YTicks,ct:free2BarTicks,body:free2Body,loops:free2Loops,dots:free2Dots,bw:4.8,lw:1.8},
  {t:'Joint 3',y:'Position (m)',x:'Velocity (m/s)',box:[488.7,18,625.7,148],xr:[-.1522,.123],yr:[.0525,.252],bar:[631.3,641.7],cr:[-1.92,2.13],tx:556.7,ty:10,yg:24,xt:free3XTicks,yt:free3YTicks,ct:free3BarTicks,body:free3Body,loops:free3Loops,dots:free3Dots,bw:10,lw:1.8},
  {t:'Joint 4',y:'Position (rad)',x:'Velocity (rad/s)',box:[50,199.3,187,329.7],xr:[-33,33.7],yr:[-4.3,5],bar:[193,204],cr:[-.0242,.0168],tx:118,ty:191.3,yg:14,xt:free4XTicks,yt:free4YTicks,ct:free4BarTicks,body:free4Body,loops:free4Loops,dots:free4Dots,bw:5.6,lw:2.4},
  {t:'Joint 5',y:'Position (rad)',x:'Velocity (rad/s)',box:[268.3,199.3,406.3,329.7],xr:[-14.2,12.6],yr:[-1.63,1.67],bar:[412.3,422.3],cr:[-.11,.1126],tx:337.7,ty:191.3,yg:14,xt:free5XTicks,yt:free5YTicks,ct:free5BarTicks,body:free5Body,loops:free5Loops,dots:free5Dots,bw:12,lw:1.5},
  {t:'Joint 6',y:'Position (rad)',x:'Velocity (rad/s)',box:[488.3,199.3,626,329.7],xr:[-18.2,26],yr:[-1.78,2.2],bar:[626,636],cr:[-.0836,.0952],tx:556.7,ty:191.3,yg:14,xt:free6XTicks,yt:free6YTicks,ct:free6BarTicks,body:free6Body,loops:free6Loops,dots:free6Dots,bw:10,lw:1.5},
  {t:'Joint 1',y:'Position (rad)',x:'Velocity (rad/s)',box:[46.3,446.7,181.3,577.3],xr:[-1,1],yr:[-.666,.533],bar:[189,199.7],cr:[-.76,1.16],tx:113.3,ty:438.7,yg:21,xt:troc1XTicks,yt:troc1YTicks,ct:troc1BarTicks,body:troc1Body,loops:troc1Loops,dots:troc1Dots,bw:5.8,lw:1.9},
  {t:'Joint 2',y:'Position (rad)',x:'Velocity (rad/s)',box:[265.7,446.7,402.7,577.3],xr:[-.915,.69],yr:[-.5,.4],bar:[408.7,419],cr:[-1.15,.87],tx:334.3,ty:438.7,yg:22,xt:troc2XTicks,yt:troc2YTicks,ct:troc2BarTicks,body:troc2Body,loops:troc2Loops,dots:troc2Dots,bw:5.9,lw:1.9},
  {t:'Joint 3',y:'Position (m)',x:'Velocity (m/s)',box:[485,446.7,616.3,577.3],xr:[-.1215,.1],yr:[.0962,.2458],bar:[625.3,635.7],cr:[-5,5.34],tx:550.7,ty:438.7,yg:23,xt:troc3XTicks,yt:troc3YTicks,ct:troc3BarTicks,body:troc3Body,loops:troc3Loops,dots:troc3Dots,bw:11,lw:1.5},
  {t:'Joint 4',y:'Position (rad)',x:'Velocity (rad/s)',box:[46.3,628.3,178.7,758.7],xr:[-20,20],yr:[-3.38,.66],bar:[189.7,200],cr:[-.0405,.0267],tx:112.3,ty:620.3,yg:14,xt:troc4XTicks,yt:troc4YTicks,ct:troc4BarTicks,body:troc4Body,loops:troc4Loops,dots:troc4Dots,bw:6.4,lw:2.2},
  {t:'Joint 5',y:'Position (rad)',x:'Velocity (rad/s)',box:[265.7,628.3,403,758.7],xr:[-10.67,9],yr:[-1.36,1.75],bar:[408.7,419],cr:[-.108,.118],tx:334.3,ty:620.3,yg:22,xt:troc5XTicks,yt:troc5YTicks,ct:troc5BarTicks,body:troc5Body,loops:troc5Loops,dots:troc5Dots,bw:11,lw:1.5},
  {t:'Joint 6',y:'Position (rad)',x:'Velocity (rad/s)',box:[485.3,628.3,622.3,758.7],xr:[-17.9,22],yr:[-1.7,2.3],bar:[628,638.3],cr:[-.0836,.0996],tx:553.3,ty:620.3,yg:14,xt:troc6XTicks,yt:troc6YTicks,ct:troc6BarTicks,body:troc6Body,loops:troc6Loops,dots:troc6Dots,bw:9,lw:1.5}
];

// strokes -> flat rows with a stroke id as 4th column
const flatten = (strokes) => {
  const rows = []
  strokes.forEach((s, id) => s.forEach(r => rows.push([r[0], r[1], r[2], id])))
  return rows
}

const strokeSeries = (strokes, axisIndex, width) => ({
  type: 'custom',
  xAxisIndex: axisIndex,
  yAxisIndex: axisIndex,
  silent: true,
  animation: false,
  encode: { x: 0, y: 1 },
  data: flatten(strokes),
  renderItem: (params, api) => {
    const i = params.dataIndexInside
    if (i === 0 || api.value(3) !== api.value(3, i - 1)) return
    const a = api.coord([api.value(0, i - 1), api.value(1, i - 1)])
    const b = api.coord([api.value(0), api.value(1)])
    return {
      type: 'line',
      shape: { x1: a[0], y1: a[1], x2: b[0], y2: b[1] },
      style: {
        lineWidth: width,
        lineCap: 'round',
        stroke: {
          type: 'linear', global: true,
          x: a[0], y: a[1], x2: b[0], y2: b[1] + 0.01,
          colorStops: [
            { offset: 0, color: api.visual('color', i - 1) },
            { offset: 1, color: api.visual('color') }
          ]
        }
      }
    }
  }
})

const label = (v) => String(v)
const option = { animation: false, backgroundColor: '#fff', title: [], grid: [], xAxis: [], yAxis: [], series: [], visualMap: [] }

panels.forEach((p) => {
  const ax = option.grid.length
  const [l, t, r, b] = p.box
  option.grid.push({ left: l, top: t, width: r - l, height: b - t })
  option.grid.push({ left: p.bar[0], top: t, width: p.bar[1] - p.bar[0], height: b - t })

  const common = {
    type: 'value',
    nameLocation: 'middle',
    nameMoveOverlap: false,
    nameTextStyle: { fontFamily: serif, fontSize: 11.5, color: tickColor },
    axisLine: { show: true, onZero: false, lineStyle: { color: '#8f8f8f', width: 1.3 } },
    axisTick: { show: false },
    splitLine: { show: true, lineStyle: { color: '#e9e9e9', width: 1 } }
  }
  option.xAxis.push({
    ...common, gridIndex: ax, name: p.x, nameGap: 18, min: p.xr[0], max: p.xr[1],
    axisTick: { show: false, customValues: p.xt },
    axisLabel: { customValues: p.xt, formatter: label, margin: 6, hideOverlap: false, fontFamily: serif, fontSize: 11, color: tickColor }
  })
  option.yAxis.push({
    ...common, gridIndex: ax, name: p.y, nameGap: p.yg, min: p.yr[0], max: p.yr[1],
    axisTick: { show: false, customValues: p.yt },
    axisLabel: { customValues: p.yt, formatter: label, margin: 5, hideOverlap: false, fontFamily: serif, fontSize: 11, color: tickColor }
  })
  // colorbar axis, the gradient itself is the visualMap
  option.xAxis.push({ type: 'value', gridIndex: ax + 1, show: false, min: 0, max: 1 })
  option.yAxis.push({
    type: 'value', gridIndex: ax + 1, position: 'right', min: p.cr[0], max: p.cr[1],
    axisLine: { show: false }, splitLine: { show: false },
    axisTick: { show: false, customValues: p.ct },
    axisLabel: { customValues: p.ct, formatter: label, margin: 3, hideOverlap: false, fontFamily: serif, fontSize: 11, color: tickColor }
  })

  const first = option.series.length
  option.series.push(strokeSeries(p.loops, ax, p.lw))
  option.series.push(strokeSeries(p.body, ax, p.bw))
  option.series.push({
    type: 'scatter', xAxisIndex: ax, yAxisIndex: ax, symbolSize: 2.4, silent: true,
    itemStyle: { opacity: 1 }, data: p.dots
  })
  option.visualMap.push({
    type: 'continuous', seriesIndex: [first, first + 1, first + 2], dimension: 2,
    min: p.cr[0], max: p.cr[1], left: p.bar[0], top: t, padding: 0,
    itemWidth: p.bar[1] - p.bar[0], itemHeight: b - t, calculable: false, hoverLink: false,
    inRange: { color: jet }, outOfRange: { color: jet[0] }
  })
  option.title.push({
    text: p.t, left: p.tx, top: p.ty, padding: 0, textAlign: 'center', textVerticalAlign: 'middle',
    textStyle: { fontFamily: serif, fontSize: 11, fontWeight: 'bold', color: '#111' }
  })
})

option.title.push({ text: '(a)  Free-space', left: 333.5, top: 387, padding: 0, textAlign: 'center', textVerticalAlign: 'middle', textStyle: { fontFamily: serif, fontSize: 25.5, fontWeight: 'normal', color: '#111' } })
option.title.push({ text: '(b)  Trocar', left: 333, top: 817, padding: 0, textAlign: 'center', textVerticalAlign: 'middle', textStyle: { fontFamily: serif, fontSize: 25.5, fontWeight: 'normal', color: '#111' } })

const chart = echarts.init(document.getElementById('chart'), null, { renderer: 'canvas' })
chart.setOption(option)
</script>
</body>
</html>
